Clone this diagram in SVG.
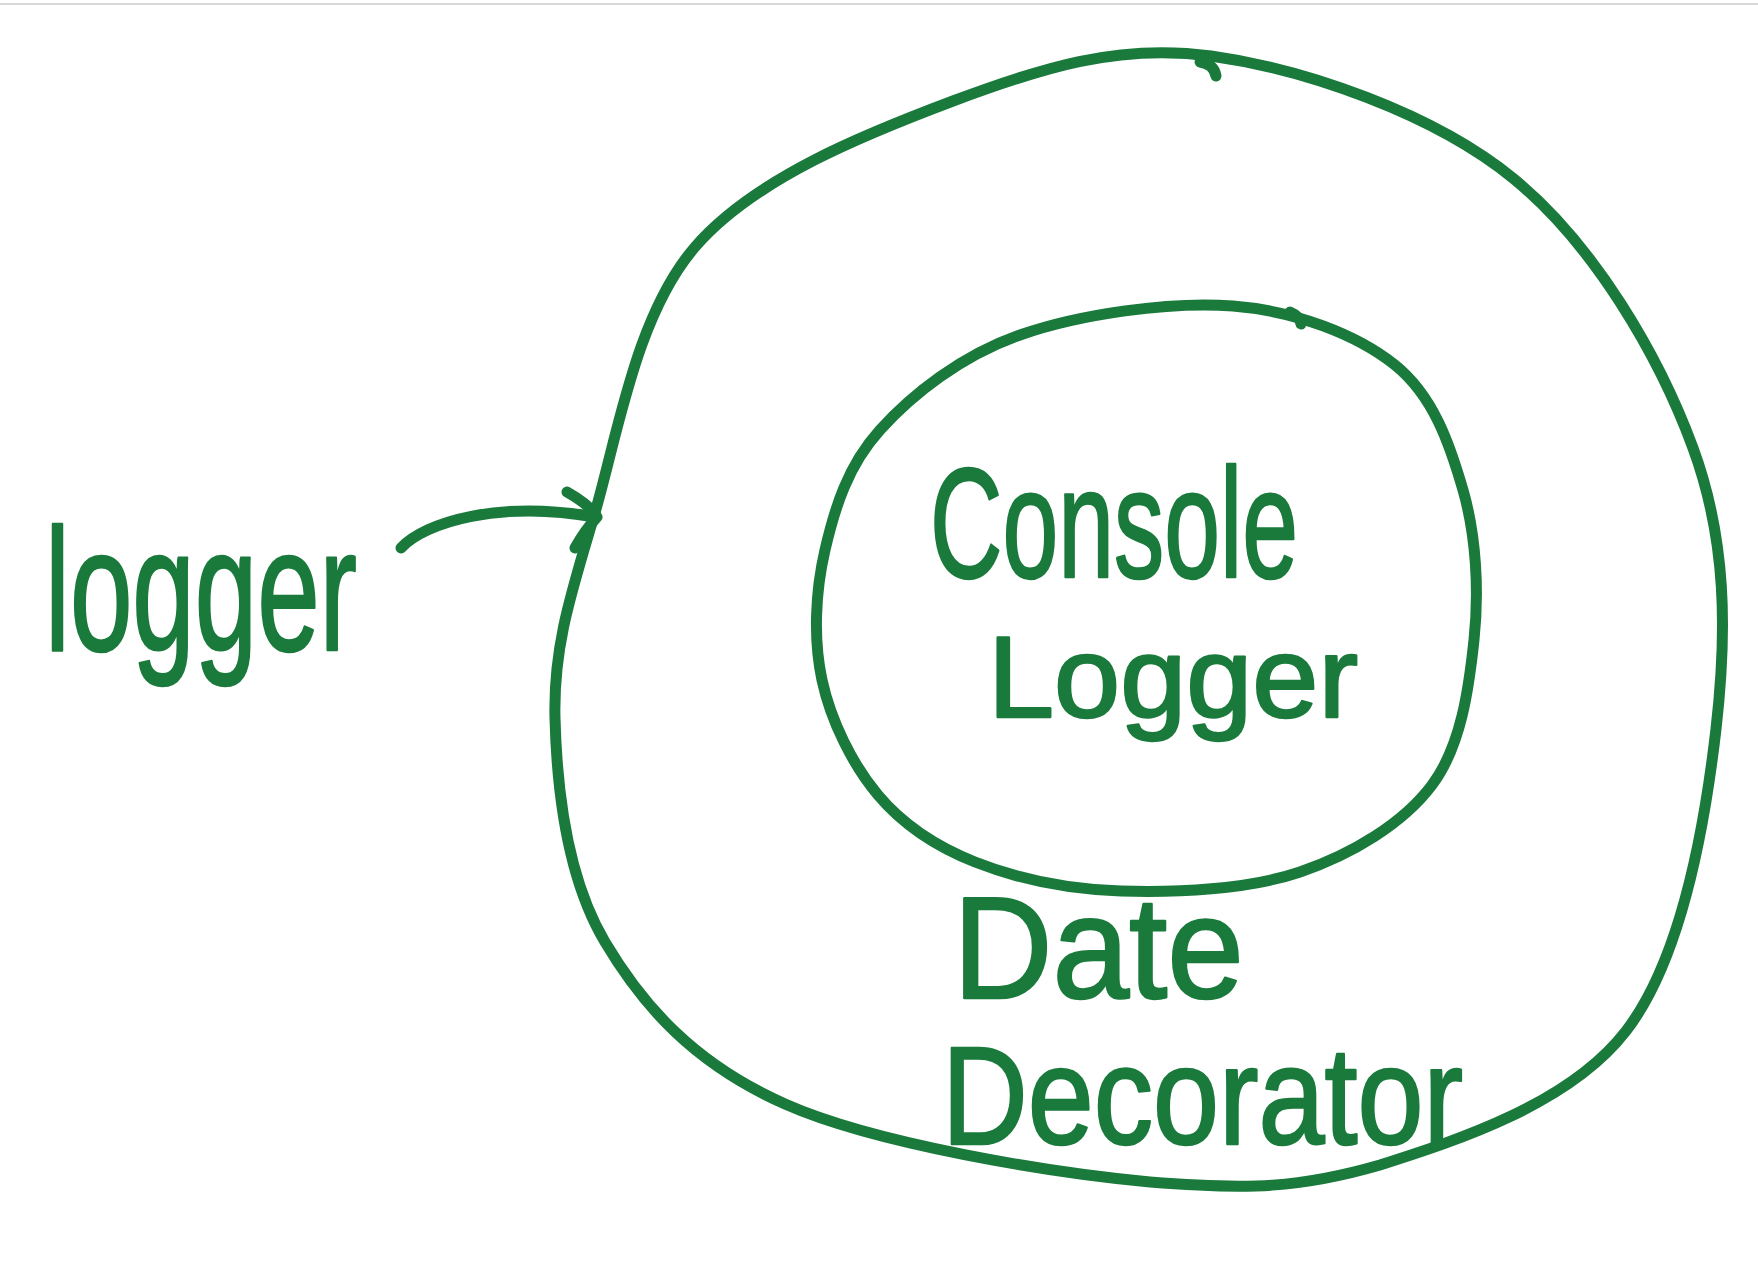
<svg xmlns="http://www.w3.org/2000/svg" width="1758" height="1264" viewBox="0 0 1758 1264">
<style>
.ink{fill:none;stroke:#1a7a3c;stroke-width:11;stroke-linecap:round;stroke-linejoin:round}
.lbl{fill:#1a7a3c;stroke:#1a7a3c;stroke-width:2.5;stroke-linejoin:round;font-family:"Liberation Sans","DejaVu Sans",sans-serif}
</style>
<rect x="0" y="0" width="1758" height="1264" fill="#ffffff"/>
<rect x="0" y="3" width="1758" height="2" fill="#d9d9d9"/>
<g id="date-decorator">
<path class="ink" d="M1211,56 C1304.5,69 1433.7,113.2 1514,179 C1594.3,244.8 1659.3,356.3 1693,448 C1726.7,539.7 1727.2,631.8 1716,729 C1704.8,826.2 1682,958.3 1626,1031 C1570,1103.7 1459.3,1139.7 1380,1165 C1300.7,1188 1249.2,1190 1150,1182 C1050.8,1172.8 875.8,1144.2 785,1104 C694.2,1063.8 643.3,1006.3 605,942 C566.7,877.7 556.8,789 555,718 C553.2,647 570.7,594.5 594,516 C617.3,437.5 635.2,316.2 695,247 C754.8,177.8 867,133.3 953,101 C1039,68.7 1117.5,43 1211,56"/>
<path class="ink" d="M1200,62 Q1214,64 1216,76"/>
<text class="lbl" x="953" y="998" font-size="145" textLength="291" lengthAdjust="spacingAndGlyphs">Date</text>
<text class="lbl" x="942" y="1144" font-size="140" textLength="521" lengthAdjust="spacingAndGlyphs">Decorator</text>
</g>
<g id="console-logger">
<path class="ink" d="M1233,306 C1295.5,311 1356.7,334.3 1395,365 C1433.3,395.7 1449.8,444.2 1463,490 C1476.2,535.8 1479.2,590.8 1474,640 C1468.8,689.2 1461,746.3 1432,785 C1403,823.7 1351.8,854.3 1300,872 C1248.2,889.7 1175.2,892.7 1121,891 C1066.8,889.3 1015.5,878 975,862 C934.5,846 903.5,825.3 878,795 C852.5,764.7 830.8,720.8 822,680 C813.2,639.2 815.3,591.7 825,550 C834.7,508.3 847.5,465.8 880,430 C912.5,394.2 961.2,355.7 1020,335 C1078.8,314.3 1170.5,301 1233,306"/>
<path class="ink" d="M1290,312 Q1300,316 1301,324"/>
<text class="lbl" x="930" y="577" font-size="155" textLength="368" lengthAdjust="spacingAndGlyphs">Console</text>
<text class="lbl" x="988" y="717" font-size="115" textLength="370" lengthAdjust="spacingAndGlyphs">Logger</text>
</g>
<g id="logger">
<text class="lbl" x="45" y="650" font-size="175" textLength="312" lengthAdjust="spacingAndGlyphs">logger</text>
</g>
<g id="connectors">
<path class="ink" d="M401,548 C425,522 500,500 595,517"/>
<path class="ink" d="M567,492 Q590,505 597,517 Q585,530 575,548"/>
</g>
</svg>
